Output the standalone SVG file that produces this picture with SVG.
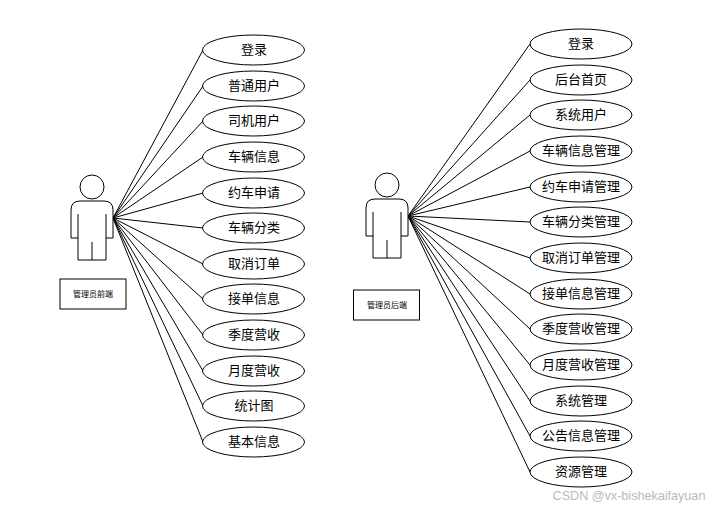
<svg xmlns="http://www.w3.org/2000/svg" width="718" height="509" viewBox="0 0 718 509">
<defs>
<g id="actor"><circle cx="21" cy="-31" r="12"/><path d="M0 20V-8Q0 -17 9 -17H33Q42 -17 42 -8V20H35V-4M35 20V42H7V20H0M7 20V-4M21 42V24"/></g>
</defs>
<style>
text{font-family:"Noto Sans CJK SC",sans-serif;text-anchor:middle;fill:#000}
.u ellipse{fill:#fff;stroke:#000;stroke-width:1}
.u text{font-size:13px;transform:translateY(-1px)}
.a{fill:#fff;stroke:#000;stroke-width:1}
.b{fill:#fff;stroke:#000;stroke-width:1}
.b+text{font-size:8px}
#connectors path{fill:none;stroke:#000;stroke-width:1}
</style>
<rect width="718" height="509" fill="#fff"/>
<g id="connectors">
<path d="M113 218L203 50M113 218L203 86M113 218L203 121M113 218L203 157M113 218L203 193M113 218L203 228M113 218L203 264M113 218L203 299M113 218L203 335M113 218L203 371M113 218L203 406M113 218L203 442"/>
<path d="M408 216L530 44M408 216L530 80M408 216L530 115M408 216L530 151M408 216L530 187M408 216L530 222M408 216L530 258M408 216L530 294M408 216L530 329M408 216L530 365M408 216L530 401M408 216L530 436M408 216L530 472"/>
</g>
<g id="actor-front"><use href="#actor" class="a" x="71" y="218"/></g>
<g id="label-front"><rect class="b" x="60" y="279" width="66" height="30"/><text x="93" y="297">管理员前端</text></g>
<g id="actor-back"><use href="#actor" class="a" x="366" y="216"/></g>
<g id="label-back"><rect class="b" x="353.500" y="290" width="66" height="30"/><text x="387" y="308">管理员后端</text></g>
<g class="u" id="l1"><ellipse cx="253.500" cy="50" rx="51" ry="15"/><text x="254" y="55">登录</text></g>
<g class="u" id="l2"><ellipse cx="253.500" cy="86" rx="51" ry="15"/><text x="254" y="91">普通用户</text></g>
<g class="u" id="l3"><ellipse cx="253.500" cy="121" rx="51" ry="15"/><text x="254" y="126">司机用户</text></g>
<g class="u" id="l4"><ellipse cx="253.500" cy="157" rx="51" ry="15"/><text x="254" y="162">车辆信息</text></g>
<g class="u" id="l5"><ellipse cx="253.500" cy="193" rx="51" ry="15"/><text x="254" y="198">约车申请</text></g>
<g class="u" id="l6"><ellipse cx="253.500" cy="228" rx="51" ry="15"/><text x="254" y="233">车辆分类</text></g>
<g class="u" id="l7"><ellipse cx="253.500" cy="264" rx="51" ry="15"/><text x="254" y="269">取消订单</text></g>
<g class="u" id="l8"><ellipse cx="253.500" cy="299" rx="51" ry="15"/><text x="254" y="304">接单信息</text></g>
<g class="u" id="l9"><ellipse cx="253.500" cy="335" rx="51" ry="15"/><text x="254" y="340">季度营收</text></g>
<g class="u" id="l10"><ellipse cx="253.500" cy="371" rx="51" ry="15"/><text x="254" y="376">月度营收</text></g>
<g class="u" id="l11"><ellipse cx="253.500" cy="406" rx="51" ry="15"/><text x="254" y="411">统计图</text></g>
<g class="u" id="l12"><ellipse cx="253.500" cy="442" rx="51" ry="15"/><text x="254" y="447">基本信息</text></g>
<g class="u" id="r1"><ellipse cx="581" cy="44" rx="51" ry="15"/><text x="581" y="49">登录</text></g>
<g class="u" id="r2"><ellipse cx="581" cy="80" rx="51" ry="15"/><text x="581" y="85">后台首页</text></g>
<g class="u" id="r3"><ellipse cx="581" cy="115" rx="51" ry="15"/><text x="581" y="120">系统用户</text></g>
<g class="u" id="r4"><ellipse cx="581" cy="151" rx="51" ry="15"/><text x="581" y="156">车辆信息管理</text></g>
<g class="u" id="r5"><ellipse cx="581" cy="187" rx="51" ry="15"/><text x="581" y="192">约车申请管理</text></g>
<g class="u" id="r6"><ellipse cx="581" cy="222" rx="51" ry="15"/><text x="581" y="227">车辆分类管理</text></g>
<g class="u" id="r7"><ellipse cx="581" cy="258" rx="51" ry="15"/><text x="581" y="263">取消订单管理</text></g>
<g class="u" id="r8"><ellipse cx="581" cy="294" rx="51" ry="15"/><text x="581" y="299">接单信息管理</text></g>
<g class="u" id="r9"><ellipse cx="581" cy="329" rx="51" ry="15"/><text x="581" y="334">季度营收管理</text></g>
<g class="u" id="r10"><ellipse cx="581" cy="365" rx="51" ry="15"/><text x="581" y="370">月度营收管理</text></g>
<g class="u" id="r11"><ellipse cx="581" cy="401" rx="51" ry="15"/><text x="581" y="406">系统管理</text></g>
<g class="u" id="r12"><ellipse cx="581" cy="436" rx="51" ry="15"/><text x="581" y="441">公告信息管理</text></g>
<g class="u" id="r13"><ellipse cx="581" cy="472" rx="51" ry="15"/><text x="581" y="477">资源管理</text></g>
<text x="629" y="500" style="font-family:'Liberation Sans',sans-serif;font-size:12.600px;fill:#bbb">CSDN @vx-bishekaifayuan</text>
</svg>
